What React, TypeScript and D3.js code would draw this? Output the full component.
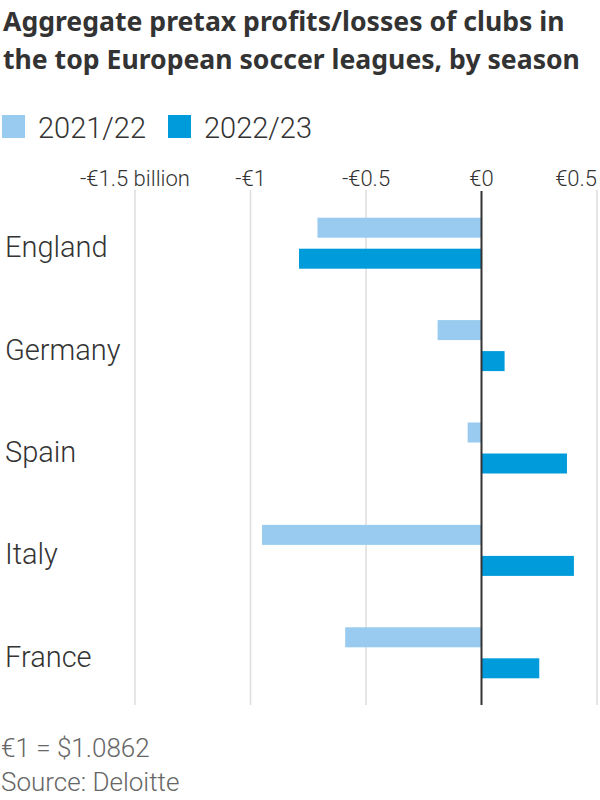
import React, { useEffect, useRef } from "react";
import * as d3 from "d3";

const countries = ["England", "Germany", "Spain", "Italy", "France"];
const seasons = ["2021/22", "2022/23"];
const profits2122 = [-0.71, -0.19, -0.06, -0.95, -0.59];
const profits2223 = [-0.79, 0.1, 0.37, 0.4, 0.25];
const ticks = [-1.5, -1, -0.5, 0, 0.5];
const tickLabels = ["-€1.5 billion", "-€1", "-€0.5", "€0", "€0.5"];
const colors = ["#98cbef", "#009bdb"];

const W = 600;
const H = 800;
const FONT = "Roboto, 'Noto Sans', sans-serif";

export default function App() {
  const svgRef = useRef<SVGSVGElement>(null);

  useEffect(() => {
    const svg = d3.select(svgRef.current);
    svg.selectAll("*").remove();

    const x = d3.scaleLinear().domain([-1.5, 0.5]).range([135, 597]);
    const y = d3.scaleBand<string>().domain(countries).range([192, 704]);
    const inner = d3
      .scaleBand<string>()
      .domain(seasons)
      .range([0, 51])
      .paddingInner(0.355);

    // title
    const title = svg
      .append("text")
      .attr("font-family", "'Noto Sans', Roboto, sans-serif")
      .attr("font-weight", 700)
      .attr("font-size", 26.6)
      .attr("fill", "#333");
    title.append("tspan").attr("x", 3).attr("y", 31).text("Aggregate pretax profits/losses of clubs in");
    title.append("tspan").attr("x", 3).attr("y", 69).text("the top European soccer leagues, by season");

    // legend
    const legendX = [2, 168];
    seasons.forEach((s, i) => {
      svg
        .append("rect")
        .attr("x", legendX[i])
        .attr("y", 115)
        .attr("width", 23)
        .attr("height", 23)
        .attr("fill", colors[i]);
      svg
        .append("text")
        .attr("x", legendX[i] + 36)
        .attr("y", 138)
        .attr("font-family", FONT)
        .attr("font-size", 29)
        .attr("font-weight", 300)
        .attr("fill", "#333")
        .text(s);
    });

    // grid + tick labels
    svg
      .append("g")
      .selectAll("line")
      .data(ticks.filter((t) => t !== 0))
      .join("line")
      .attr("x1", (d) => x(d))
      .attr("x2", (d) => x(d))
      .attr("y1", 190)
      .attr("y2", 705)
      .attr("stroke", "#dddddd")
      .attr("stroke-width", 1.5);

    svg
      .append("g")
      .selectAll("text")
      .data(ticks)
      .join("text")
      .attr("x", (d) => x(d))
      .attr("y", 186)
      .attr("text-anchor", (d, i) => (i === ticks.length - 1 ? "end" : "middle"))
      .attr("font-family", FONT)
      .attr("font-size", 22)
      .attr("font-weight", 300)
      .attr("fill", "#333")
      .text((d, i) => tickLabels[i]);

    // bars
    const series = [profits2122, profits2223];
    series.forEach((vals, si) => {
      svg
        .append("g")
        .selectAll("rect")
        .data(vals)
        .join("rect")
        .attr("x", (d) => x(Math.min(0, d)))
        .attr("width", (d) => Math.abs(x(d) - x(0)))
        .attr("y", (d, i) => y(countries[i])! + y.bandwidth() / 2 - 25.5 + inner(seasons[si])!)
        .attr("height", inner.bandwidth())
        .attr("fill", colors[si]);
    });

    // zero line
    svg
      .append("line")
      .attr("x1", x(0))
      .attr("x2", x(0))
      .attr("y1", 191)
      .attr("y2", 705)
      .attr("stroke", "#333")
      .attr("stroke-width", 2);

    // category labels
    svg
      .append("g")
      .selectAll("text")
      .data(countries)
      .join("text")
      .attr("x", 5)
      .attr("y", (d) => y(d)! + y.bandwidth() / 2 + 14)
      .attr("font-family", FONT)
      .attr("font-size", 29)
      .attr("font-weight", 300)
      .attr("fill", "#333")
      .text((d) => d);

    // footer
    const footer = ["€1 = $1.0862", "Source: Deloitte"];
    svg
      .append("g")
      .selectAll("text")
      .data(footer)
      .join("text")
      .attr("x", 1)
      .attr("y", (d, i) => 757 + i * 34)
      .attr("font-family", FONT)
      .attr("font-size", 26)
      .attr("font-weight", 300)
      .attr("fill", "#666")
      .text((d) => d);
  }, []);

  return (
    <svg
      ref={svgRef}
      width={W}
      height={H}
      style={{ position: "absolute", left: 0, top: 0, background: "#fff" }}
    />
  );
}
